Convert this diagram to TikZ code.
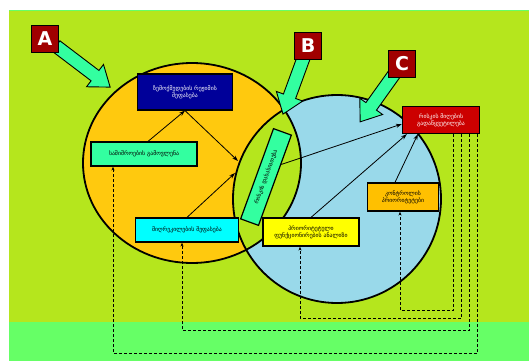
\documentclass[tikz,border=0pt]{standalone}
\usepackage{fontspec}
\setmainfont{DejaVu Sans}
\newfontfamily\geo{DejaVu Sans}
\usetikzlibrary{arrows.meta,calc}
\definecolor{bgtop}{HTML}{B5E61D}
\definecolor{bgbot}{HTML}{66FF66}
\definecolor{circA}{HTML}{FFC90E}
\definecolor{circC}{HTML}{99D9EA}
\definecolor{mint}{HTML}{33FFA0}
\definecolor{lblred}{HTML}{A00000}
\definecolor{navy}{HTML}{000099}
\definecolor{decred}{HTML}{CC0000}
\definecolor{ctrlor}{HTML}{FFC000}
\definecolor{aqua}{HTML}{00FFFF}
\definecolor{ylw}{HTML}{FFFF00}
\tikzset{bx/.style={draw, line width=1.2pt, inner sep=1pt, align=center, font=\geo\fontsize{5.8}{7.2}\selectfont}}
\tikzset{lbl/.style={draw, line width=1pt, fill=lblred, text=white, minimum size=27pt, inner sep=0pt, font=\bfseries\fontsize{19}{19}\selectfont}}
\tikzset{ln/.style={line width=0.8pt, -{Stealth[length=6pt,width=4pt]}}}
\tikzset{fb/.style={densely dashed, line width=0.8pt, -{Stealth[length=4pt,width=3pt]}}}
\tikzset{barrow/.style={draw, line width=0.9pt, fill=mint, line join=miter}}

\begin{document}
\begin{tikzpicture}[x=1pt,y=-1pt]
                \useasboundingbox (0,0) rectangle (529,361);
                % background
                \fill[white] (0,0) rectangle (529,361);
                \fill[bgtop] (9,10) rectangle (529,322);
                \fill[bgbot] (9,322) rectangle (529,361);
                \draw[bgbot, line width=1pt] (9,10.5) -- (529,10.5);
                % circles A and C, lens B
                \fill[circA] (192,163) ellipse [x radius=109, y radius=100];
                \fill[circC] (337,199) circle [radius=104];
                \begin{scope}
                    \clip (192,163) ellipse [x radius=109, y radius=100];
                    \fill[bgtop] (337,199) circle [radius=104];
                \end{scope}
                \draw[line width=1.8pt] (192,163) ellipse [x radius=109, y radius=100];
                \draw[line width=1.8pt] (337,199) circle [radius=104];
                % block arrows
                \foreach \sx/\sy/\ang/\len in {56/46/-37.2/68, 305/54/-110.1/64, 395/73/-125.5/60}
                    \draw[barrow, shift={(\sx,\sy)}, rotate=\ang]
                        (0,-6.5) -- ({\len-19},-6.5) -- ({\len-19},-14) -- (\len,0)
                        -- ({\len-19},14) -- ({\len-19},6.5) -- (0,6.5) -- cycle;
                % letters
                \node[lbl] (la) at (45,39) {A};
                \node[lbl] (lb) at (308,46) {B};
                \node[lbl] (lc) at (402,64) {C};
                % boxes
                \node[bx, fill=navy, text=white, minimum width=95pt, minimum height=36pt] (expo) at (185,92) {ზემოქმედების რეჟიმის\\შეფასება};
                \node[bx, fill=mint, minimum width=106pt, minimum height=24pt] (haz) at (144,154) {საშიშროების გამოვლენა};
                \node[bx, fill=aqua, minimum width=103pt, minimum height=24pt] (susc) at (187,230) {მიღრეკილების შეფასება};
                \node[bx, fill=mint, rotate=70, minimum width=96pt, minimum height=19pt] (rchar) at (266,177) {რისკის დახასიათება};
                \node[bx, fill=decred, text=white, minimum width=77pt, minimum height=27pt] (dec) at (441,120) {რისკის მიღების\\გადაწყვეტილება};
                \node[bx, fill=ctrlor, minimum width=71pt, minimum height=28pt] (ctrl) at (403,197) {კონტროლის\\პრიორიტეტები};
                \node[bx, fill=ylw, minimum width=96pt, minimum height=28pt] (opt) at (311,232) {პრიორიტეტული\\ფუნქციონირების ანალიზი};
                % edge points on the lens
                \coordinate (e1) at (238,161);
                \coordinate (e2) at (235,173);
                % solid arrows
                \draw[ln] ([xshift=4pt]haz.north) -- (expo.south);
                \draw[ln] (expo.south) -- (e1);
                \draw[ln] (susc.north) -- (e2);
                \draw[ln] ($(rchar.south)!0.35!(rchar.south east)$) -- ([yshift=-4pt]dec.west);
                \draw[ln] (opt.north) -- ([xshift=5pt]dec.south west);
                \draw[ln] ([xshift=-8pt]ctrl.north) -- ([xshift=16pt]dec.south west);
                % feedback loops
                \draw[fb] ([xshift=12pt]dec.south) -- ++(0,176.5) -| ([xshift=-3pt]ctrl.south);
                \draw[fb] ([xshift=20pt]dec.south) -- ++(0,184.5) -| ([xshift=-11pt]opt.south);
                \draw[fb] ([xshift=28pt]dec.south) -- ++(0,196.5) -| ([xshift=-5pt]susc.south);
                \draw[fb] ([xshift=36pt]dec.south) -- ++(0,219.5) -| ([xshift=-31pt]haz.south);
            \end{tikzpicture}
\end{document}
